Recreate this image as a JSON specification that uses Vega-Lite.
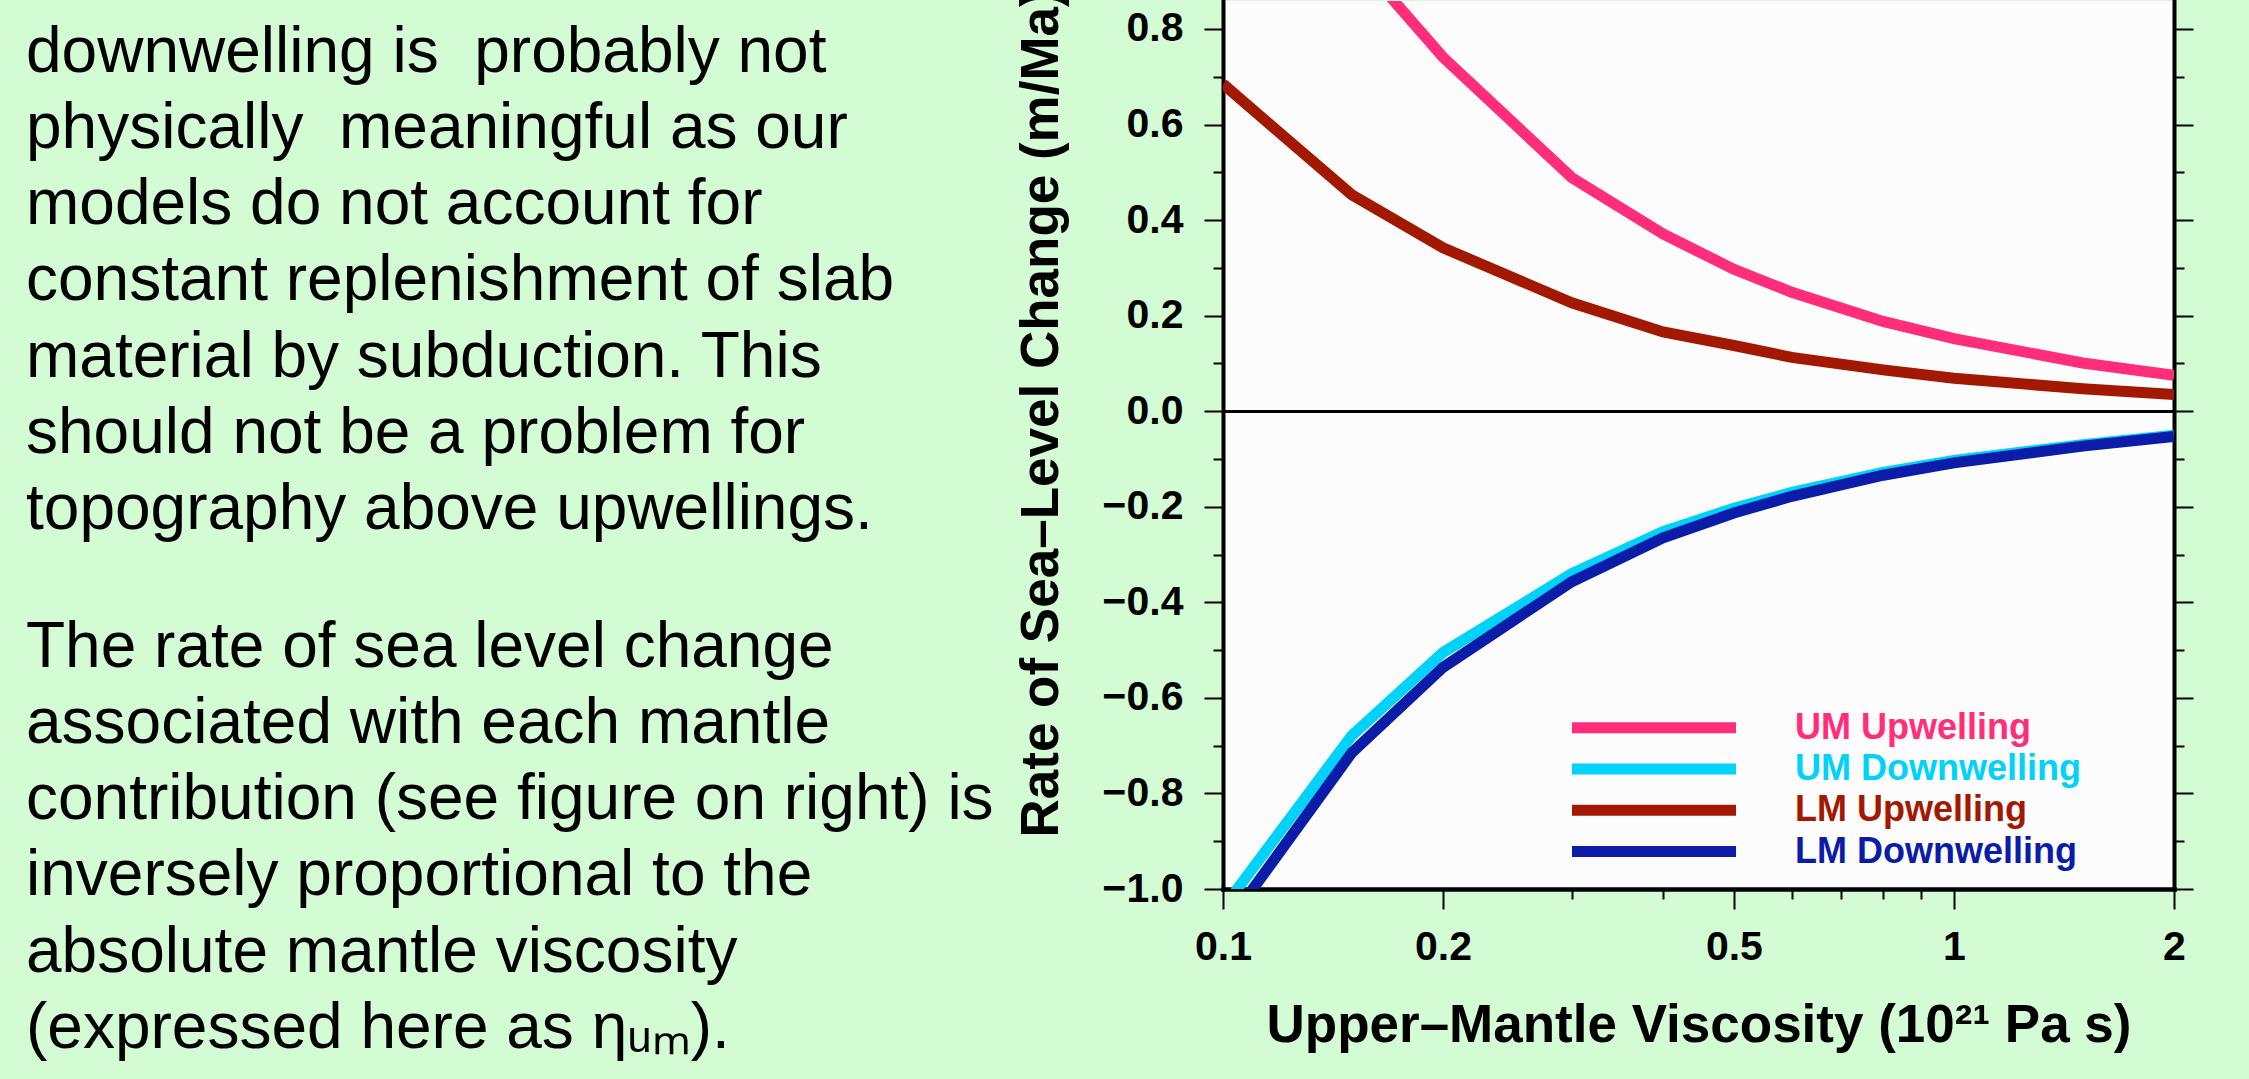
{
  "$schema": "https://vega.github.io/schema/vega-lite/v6.json",
  "background": "#d4fcd4",
  "padding": {"left": 26, "top": -12, "right": 80, "bottom": 60},
  "autosize": {"type": "pad"},
  "bounds": "flush",
  "spacing": 0,
  "datasets": {
    "para": [
      {"para": 1, "text": "downwelling is \u00a0probably not\nphysically \u00a0meaningful as our\nmodels do not account for\nconstant replenishment of slab\nmaterial by subduction. This\nshould not be a problem for\ntopography above upwellings."},
      {"para": 2, "text": "The rate of sea level change\nassociated with each mantle\ncontribution (see figure on right) is\ninversely proportional to the\nabsolute mantle viscosity\n(expressed here as ηᵤₘ)."}
    ],
    "curves": [
      {"series": "UM Upwelling", "visc": 0.1, "rate": 1.45},
      {"series": "UM Upwelling", "visc": 0.15, "rate": 0.96},
      {"series": "UM Upwelling", "visc": 0.2, "rate": 0.741},
      {"series": "UM Upwelling", "visc": 0.3, "rate": 0.489},
      {"series": "UM Upwelling", "visc": 0.4, "rate": 0.371},
      {"series": "UM Upwelling", "visc": 0.5, "rate": 0.297},
      {"series": "UM Upwelling", "visc": 0.6, "rate": 0.249},
      {"series": "UM Upwelling", "visc": 0.8, "rate": 0.188},
      {"series": "UM Upwelling", "visc": 1.0, "rate": 0.152},
      {"series": "UM Upwelling", "visc": 1.5, "rate": 0.101},
      {"series": "UM Upwelling", "visc": 2.0, "rate": 0.075},
      {"series": "UM Downwelling", "visc": 0.1, "rate": -1.04},
      {"series": "UM Downwelling", "visc": 0.15, "rate": -0.679},
      {"series": "UM Downwelling", "visc": 0.2, "rate": -0.505},
      {"series": "UM Downwelling", "visc": 0.3, "rate": -0.34},
      {"series": "UM Downwelling", "visc": 0.4, "rate": -0.252},
      {"series": "UM Downwelling", "visc": 0.5, "rate": -0.203},
      {"series": "UM Downwelling", "visc": 0.6, "rate": -0.17},
      {"series": "UM Downwelling", "visc": 0.8, "rate": -0.128},
      {"series": "UM Downwelling", "visc": 1.0, "rate": -0.103},
      {"series": "UM Downwelling", "visc": 1.5, "rate": -0.07},
      {"series": "UM Downwelling", "visc": 2.0, "rate": -0.05},
      {"series": "LM Upwelling", "visc": 0.1, "rate": 0.685},
      {"series": "LM Upwelling", "visc": 0.15, "rate": 0.453},
      {"series": "LM Upwelling", "visc": 0.2, "rate": 0.342},
      {"series": "LM Upwelling", "visc": 0.3, "rate": 0.227},
      {"series": "LM Upwelling", "visc": 0.4, "rate": 0.166},
      {"series": "LM Upwelling", "visc": 0.5, "rate": 0.1376},
      {"series": "LM Upwelling", "visc": 0.6, "rate": 0.1126},
      {"series": "LM Upwelling", "visc": 0.8, "rate": 0.0865},
      {"series": "LM Upwelling", "visc": 1.0, "rate": 0.069},
      {"series": "LM Upwelling", "visc": 1.5, "rate": 0.047},
      {"series": "LM Upwelling", "visc": 2.0, "rate": 0.035},
      {"series": "LM Downwelling", "visc": 0.1, "rate": -1.086},
      {"series": "LM Downwelling", "visc": 0.15, "rate": -0.715},
      {"series": "LM Downwelling", "visc": 0.2, "rate": -0.536},
      {"series": "LM Downwelling", "visc": 0.3, "rate": -0.357},
      {"series": "LM Downwelling", "visc": 0.4, "rate": -0.265},
      {"series": "LM Downwelling", "visc": 0.5, "rate": -0.213},
      {"series": "LM Downwelling", "visc": 0.6, "rate": -0.178},
      {"series": "LM Downwelling", "visc": 0.8, "rate": -0.134},
      {"series": "LM Downwelling", "visc": 1.0, "rate": -0.108},
      {"series": "LM Downwelling", "visc": 1.5, "rate": -0.073},
      {"series": "LM Downwelling", "visc": 2.0, "rate": -0.053}
    ]
  },
  "hconcat": [
    {
      "width": 1197,
      "height": 888,
      "view": {"stroke": null, "fill": null},
      "data": {"name": "para"},
      "mark": {"type": "text", "align": "left", "baseline": "alphabetic", "lineBreak": "\n", "lineHeight": 76.3, "fontSize": 64, "font": "Liberation Sans", "color": "#000000"},
      "encoding": {
        "text": {"field": "text", "type": "nominal"},
        "x": {"datum": 0, "type": "quantitative", "scale": {"domain": [0, 1]}, "axis": null},
        "y": {"field": "para", "type": "quantitative", "scale": {"domain": [0.88132, 2.37401], "reverse": true, "nice": false, "zero": false}, "axis": null}
      }
    },
    {
      "width": 951,
      "height": 888,
      "view": {"fill": "#fcfcfc", "stroke": null},
      "resolve": {"axis": {"y": "independent"}},
      "layer": [
        {
          "data": {"name": "curves"},
          "mark": {"type": "rule", "color": "#000000", "strokeWidth": 2},
          "encoding": {
            "y": {
              "datum": 0, "type": "quantitative",
              "scale": {"domain": [-1, 0.8586], "nice": false, "zero": false},
              "axis": {
                "orient": "right", "title": null, "labels": false, "grid": false,
                "values": [-1, -0.9, -0.8, -0.7, -0.6, -0.5, -0.4, -0.3, -0.2, -0.1, 0, 0.1, 0.2, 0.3, 0.4, 0.5, 0.6, 0.7, 0.8],
                "tickSize": {"condition": {"test": "abs(round(datum.value*10)) % 2 == 0", "value": 19}, "value": 10},
                "tickWidth": 2, "tickColor": "#000000",
                "domainWidth": 4, "domainColor": "#000000", "domainCap": "square"
              }
            }
          }
        },
        {
          "data": {"name": "curves"},
          "mark": {"type": "line", "strokeWidth": 11, "clip": true},
          "encoding": {
            "x": {
              "field": "visc", "type": "quantitative",
              "scale": {"type": "log", "domain": [0.1, 2], "nice": false},
              "axis": {
                "orient": "bottom",
                "values": [0.1, 0.2, 0.3, 0.4, 0.5, 0.6, 0.7, 0.8, 0.9, 1, 2],
                "format": "~g",
                "labelExpr": "indexof([0.1, 0.2, 0.5, 1, 2], datum.value) >= 0 ? datum.label : ''",
                "tickSize": {"condition": {"test": "indexof([0.1, 0.2, 0.5, 1, 2], datum.value) >= 0", "value": 20}, "value": 10},
                "tickWidth": 2, "tickColor": "#000000",
                "domainWidth": 4.5, "domainColor": "#000000", "domainCap": "square",
                "grid": false,
                "labelFont": "Liberation Sans", "labelFontWeight": "bold", "labelFontSize": 41, "labelColor": "#000000",
                "labelPadding": 18, "labelFlush": false, "labelOverlap": false, "labelBaseline": "top",
                "title": "Upper–Mantle Viscosity (10²¹ Pa s)",
                "titleFont": "Liberation Sans", "titleFontWeight": "bold", "titleFontSize": 53, "titleColor": "#000000",
                "titleBaseline": "alphabetic", "titleY": 152
              }
            },
            "y": {
              "field": "rate", "type": "quantitative",
              "scale": {"domain": [-1, 0.8586], "nice": false, "zero": false},
              "axis": {
                "orient": "left",
                "values": [-1, -0.9, -0.8, -0.7, -0.6, -0.5, -0.4, -0.3, -0.2, -0.1, 0, 0.1, 0.2, 0.3, 0.4, 0.5, 0.6, 0.7, 0.8],
                "format": ".1f",
                "labelExpr": "abs(round(datum.value*10)) % 2 == 0 ? datum.label : ''",
                "tickSize": {"condition": {"test": "abs(round(datum.value*10)) % 2 == 0", "value": 19}, "value": 10},
                "tickWidth": 2, "tickColor": "#000000",
                "domainWidth": 4, "domainColor": "#000000", "domainCap": "square",
                "grid": false,
                "labelFont": "Liberation Sans", "labelFontWeight": "bold", "labelFontSize": 41, "labelColor": "#000000",
                "labelPadding": 21, "labelFlush": false, "labelOverlap": false,
                "title": "Rate of Sea–Level Change (m/Ma)",
                "titleFont": "Liberation Sans", "titleFontWeight": "bold", "titleFontSize": 53, "titleColor": "#000000",
                "titleAngle": 270, "titleAlign": "left", "titleBaseline": "alphabetic",
                "titleX": -166, "titleY": 836
              }
            },
            "color": {
              "field": "series", "type": "nominal",
              "scale": {
                "domain": ["UM Upwelling", "UM Downwelling", "LM Upwelling", "LM Downwelling"],
                "range": ["#ff2d7a", "#00d2fa", "#a31800", "#0a1ca8"]
              },
              "legend": {
                "title": null, "orient": "none", "legendX": 1528, "legendY": 708.7, "padding": 0,
                "symbolType": "M0,-0.55H16.4V0.55H0Z", "symbolSize": 400, "symbolStrokeWidth": 0,
                "labelFont": "Liberation Sans", "labelFontWeight": "bold", "labelFontSize": 36,
                "labelOffset": 205, "rowPadding": 5.3, "labelLimit": 600,
                "encode": {
                  "labels": {"update": {"fill": {"scale": "color", "field": "value"}}},
                  "symbols": {"update": {"fill": {"scale": "color", "field": "value"}, "stroke": {"value": "transparent"}, "opacity": {"value": 1}}}
                }
              }
            }
          }
        }
      ]
    }
  ]
}
